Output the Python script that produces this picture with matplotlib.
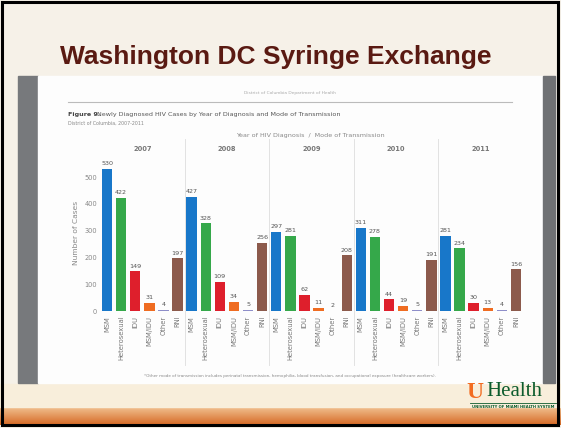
import numpy as np
import matplotlib.pyplot as plt
from matplotlib.patches import Rectangle
from matplotlib.colors import LinearSegmentedColormap

years = ['2007', '2008', '2009', '2010', '2011']
modes = ['MSM', 'Heterosexual', 'IDU', 'MSM/IDU', 'Other', 'RNI']
cases_2007 = [530, 422, 149, 31, 4, 197]
cases_2008 = [427, 328, 109, 34, 5, 256]
cases_2009 = [297, 281, 62, 11, 2, 208]
cases_2010 = [311, 278, 44, 19, 5, 191]
cases_2011 = [281, 234, 30, 13, 4, 156]
yticks = [0, 100, 200, 300, 400, 500]

colors = ['#1877c9', '#35a84a', '#de1f2c', '#ef6c21', '#8e8ec9', '#8c5a4c']
all_cases = [cases_2007, cases_2008, cases_2009, cases_2010, cases_2011]

W, H = 561, 428
fig = plt.figure(figsize=(W / 100, H / 100), dpi=100)
fig.patch.set_facecolor('#f6f1e8')

# slide background layer (pixel coordinates)
bg = fig.add_axes([0, 0, 1, 1])
bg.set_xlim(0, W)
bg.set_ylim(H, 0)
bg.axis('off')

# bottom orange band
grad = np.linspace(0, 1, 50).reshape(-1, 1)
band = LinearSegmentedColormap.from_list('band', ['#f1c08f', '#d66a26'])
bg.imshow(grad, extent=(0, W, 425, 407), cmap=band, aspect='auto', zorder=0)
bg.add_patch(Rectangle((0, 384), W, 23, color='#f8eedb', zorder=0))
# frame
bg.add_patch(Rectangle((2, 2), W - 5, H - 5, fill=False, ec='black', lw=2.2, zorder=5))

bg.text(60, 57, 'Washington DC Syringe Exchange', fontsize=19, fontweight='bold',
        color='#5a1a12', family='Liberation Sans', va='center', ha='left')

# screenshot of report page
bg.add_patch(Rectangle((18, 76), 20, 307, color='#77797c', zorder=1))
bg.add_patch(Rectangle((38, 76), 505, 307, color='#fdfdfd', zorder=1))
bg.add_patch(Rectangle((543, 76), 12, 307, color='#6f7174', zorder=1))

bg.text(290, 93, 'District of Columbia Department of Health', fontsize=3.2, color='#aaaaaa',
        ha='center', va='center', zorder=2)
bg.plot([68, 512], [102, 102], color='#bbbbbb', lw=0.8, zorder=2)
bg.text(68, 114, 'Figure 9.', fontsize=4.6, fontweight='bold', color='#444444',
        va='center', zorder=2)
bg.text(97, 114, 'Newly Diagnosed HIV Cases by Year of Diagnosis and Mode of Transmission',
        fontsize=4.6, color='#555555', va='center', zorder=2)
bg.text(68, 123, 'District of Columbia, 2007-2011', fontsize=3.4, color='#888888',
        va='center', zorder=2)
bg.text(310, 136, 'Year of HIV Diagnosis  /  Mode of Transmission', fontsize=4.6,
        color='#888888', ha='center', va='center', zorder=2)
bg.text(290, 376, '*Other mode of transmission includes perinatal transmission, hemophilia, '
        'blood transfusion, and occupational exposure (healthcare workers).',
        fontsize=3.0, color='#888888', ha='center', va='center', zorder=2)

# logo
bg.text(466, 393, 'U', fontsize=17, fontweight='bold', color='#f26c21', va='center',
        ha='left', family='Liberation Serif', zorder=3)
bg.text(486, 392, 'Health', fontsize=15, color='#0d5c2d', va='center', ha='left',
        family='Liberation Serif', zorder=3)
bg.plot([470, 556], [403, 403], color='#0d5c2d', lw=0.6, zorder=3)
bg.text(513, 407, 'UNIVERSITY OF MIAMI HEALTH SYSTEM', fontsize=2.7, fontweight='bold',
        color='#0d5c2d', ha='center', va='center', zorder=3)

# bar chart
ax_left, ax_right = 100, 523
ax_top, ax_bot = 152, 313
ax = fig.add_axes([ax_left / W, 1 - ax_bot / H, (ax_right - ax_left) / W, (ax_bot - ax_top) / H])
ax.set_facecolor('none')
n = len(modes)
for g, vals in enumerate(all_cases):
    x = g * n + np.arange(n)
    ax.bar(x, vals, width=0.74, color=colors, zorder=2)
    for xi, v in zip(x, vals):
        ax.text(xi, v + 10, str(v), ha='center', va='bottom', fontsize=4.6, color='#555555')
    ax.text(g * n + 2.5, 1.0, years[g], transform=ax.get_xaxis_transform(),
            ha='center', va='bottom', fontsize=4.8, fontweight='bold', color='#777777')
    if g > 0:
        ax.axvline(g * n - 0.5, ymin=-0.32, ymax=1.08, color='#e2e2e2', lw=0.7,
                   clip_on=False, zorder=0)

ax.set_xlim(-0.5, len(years) * n - 0.5)
ax.set_ylim(-7, 594)
ax.set_yticks(yticks)
ax.set_yticklabels([str(t) for t in yticks], fontsize=4.8, color='#888888')
xpos = np.arange(len(years) * n)
ax.set_xticks(xpos)
ax.set_xticklabels(modes * len(years), rotation=90, fontsize=4.9, color='#777777')
ax.tick_params(length=0, pad=2)
ax.set_ylabel('Number of Cases', fontsize=5.4, color='#888888', labelpad=4)
for s in ax.spines.values():
    s.set_visible(False)

fig.savefig('out.png', dpi=100, facecolor=fig.get_facecolor())
